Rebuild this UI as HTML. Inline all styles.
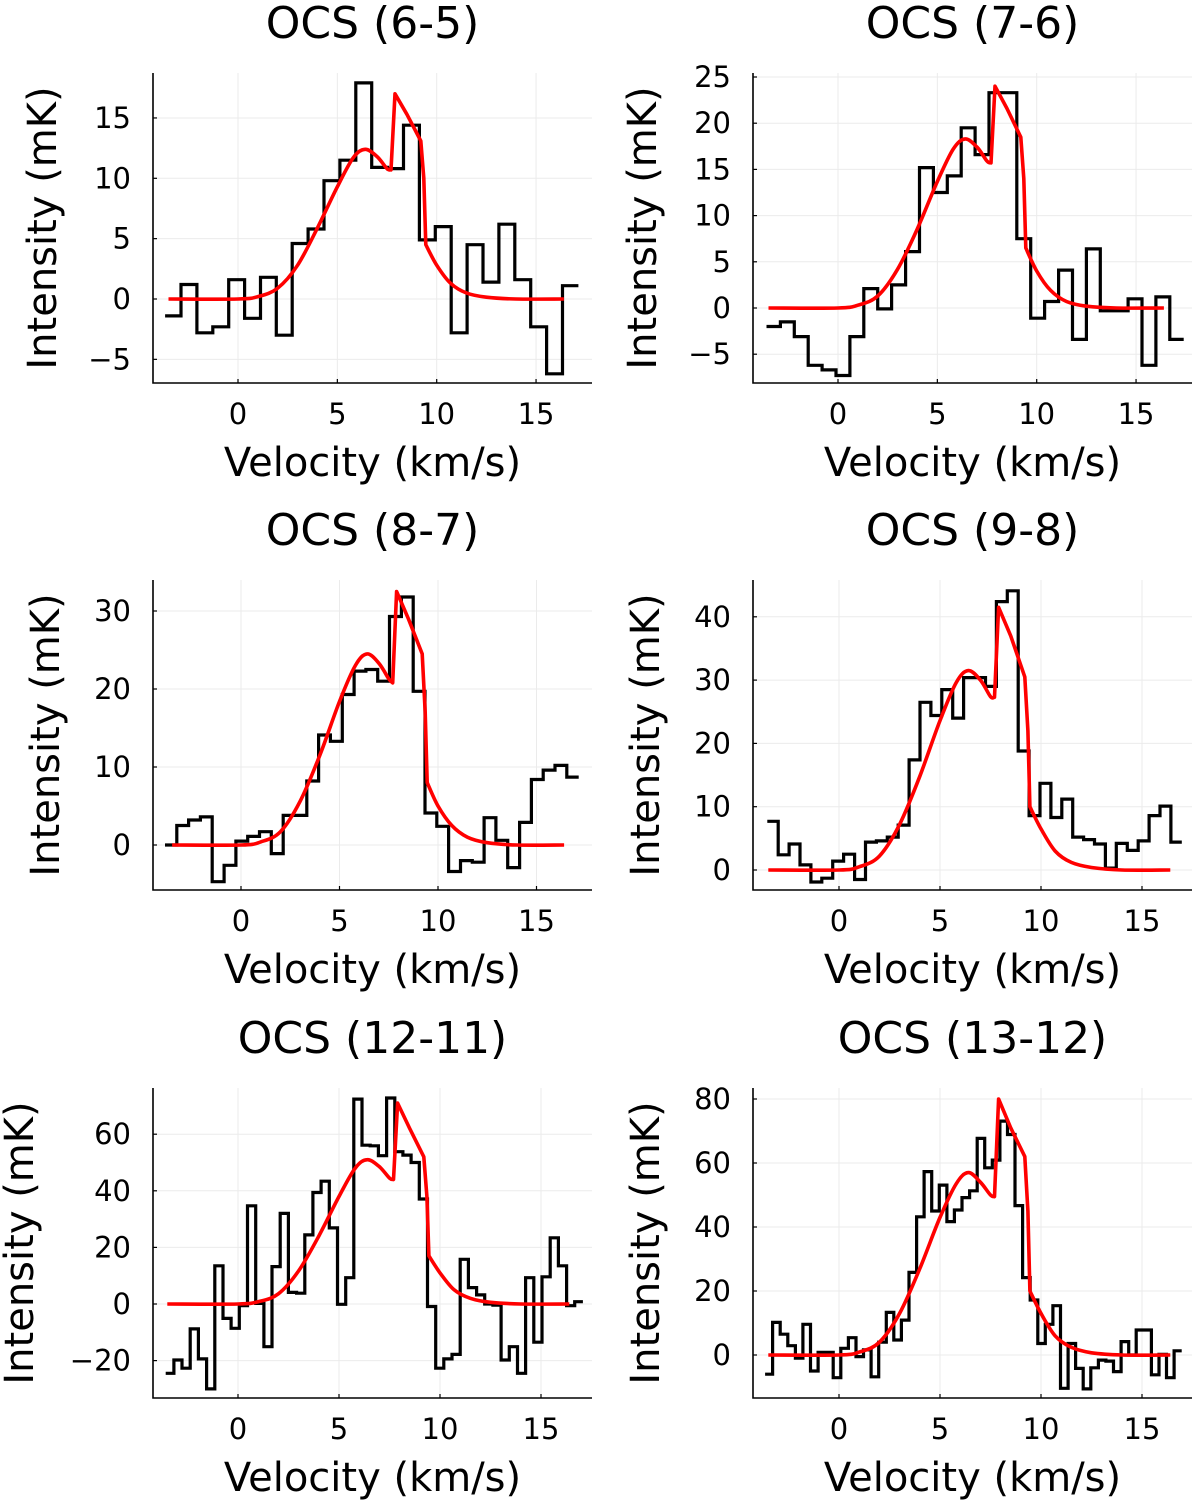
<!DOCTYPE html>
<html><head><meta charset="utf-8">
<style>
html,body{margin:0;padding:0;background:#fff;}
svg{display:block;font-family:"DejaVu Sans","Liberation Sans",sans-serif;}
</style></head>
<body>
<svg id="fig" width="1200" height="1507" viewBox="0 0 1200 1507" xmlns="http://www.w3.org/2000/svg"></svg>
<script>
// ---- data ----
const titles = ["OCS (6-5)","OCS (7-6)","OCS (8-7)","OCS (9-8)","OCS (12-11)","OCS (13-12)"];
const chanStart = [-3.67,-3.6,-3.86,-3.55,-3.58,-3.66];
const chanWidth = [0.8,0.7,0.6,0.54,0.405,0.375];
const spec1 = [-1.4,1.2,-2.8,-2.3,1.6,-1.6,1.8,-3.0,4.6,5.8,9.8,11.5,17.9,10.9,10.8,14.4,4.9,6.0,-2.8,4.5,1.4,6.2,1.6,-2.3,-6.2,1.1];
const spec2 = [-2.0,-1.5,-3.1,-6.2,-6.7,-7.3,-3.1,2.1,-0.1,2.5,6.1,15.2,12.5,14.3,19.5,16.6,23.3,23.3,7.5,-1.1,0.7,4.1,-3.4,6.4,-0.3,-0.3,1.0,-6.2,1.2,-3.4];
const spec3 = [0,2.5,3.2,3.6,-4.7,-2.6,0.5,1.1,1.7,-1.1,3.8,3.8,8.2,14.1,13.3,19.3,22.3,22.5,21.0,29.3,31.8,19.7,4.1,2.4,-3.4,-2.0,-2.2,3.5,0.6,-2.9,2.9,8.4,9.6,10.2,8.7];
const spec4 = [7.7,2.4,4.1,0.8,-1.9,-1.3,1.4,2.5,-1.5,4.4,4.6,5.2,7.1,17.4,26.5,24.4,28.5,24.0,30.4,30.4,29.0,42.4,44.1,18.8,8.6,13.7,8.3,11.2,5.2,4.8,4.1,0.3,4.2,3.1,4.6,8.6,10.1,4.4];
const spec5 = [-24.5,-19.8,-22.7,-8.8,-19.4,-30,13.5,-5.1,-8.6,-0.6,34.7,0.2,-15.1,13.2,32.0,4.1,3.8,24.4,39.4,43.4,26.9,-0.1,9.3,72.4,56.1,55.9,52.4,72.8,53.8,52.6,50.0,37.1,-0.9,-22.7,-19.4,-17.8,15.8,5.8,3.2,0,-0.4,-19.8,-15.1,-24.5,9.3,-13.5,9.6,23.4,13.5,-0.6,0.8];
const spec6 = [-6.0,10.2,6.5,2.9,-1.0,9.6,-5.0,0.8,0.8,-7.1,2.1,5.4,-0.5,1.6,-6.8,4.0,13.3,4.7,10.9,25.8,43.2,57.3,45.0,53.1,41.7,45.3,49.2,51.3,67.7,58.5,60.9,73.1,68.9,46.7,24.2,17.2,3.6,9.6,15.4,-10.4,3.6,-4.2,-10.6,-4.0,-1.6,-1.9,-5.2,4.2,0,7.8,7.8,-6.2,0.2,-7.1,1.3];
const fitV = [-3.5,0,1,2,3,4,5,5.8,6.4,7,7.5,7.7,7.9,8.5,9.2,9.35,9.45,10,10.7,11.5,12.5,14,16.4];
const fit1 = [0,0,0.2,0.9,2.8,5.9,9.3,11.7,12.4,11.8,10.8,10.7,17.0,15.3,13.1,10,4.5,2.8,1.3,0.5,0.15,0,0];
const fit2 = [0,0,0.3,1.3,4.2,8.6,13.7,17.2,18.3,17.4,15.9,15.7,24,21.6,18.5,14,6.5,4.0,1.9,0.7,0.2,0,0];
const fit3 = [0,0,0.4,1.7,5.6,11.5,18.4,23,24.5,23.3,21.3,20.8,32.5,29,24.5,17,8,5,2.5,1,0.3,0,0];
const fit4 = [0,0,0.5,2.2,7.2,14.8,23.6,29.6,31.5,30,27.4,27.3,41.5,37,30.5,22,10,6.5,3,1.2,0.4,0,0];
const fit5 = [0,0,0.8,3.6,11.7,24,38,48,51,48.5,44.5,44,71,62,52,38,17,11,5,2,0.6,0,0];
const fit6 = [0,0,0.9,4,13,27,43,53.5,57,54,50,49.5,80,71,62,45,20,13,6,2.4,0.7,0,0];
const xTicks = [0,5,10,15];
const yTicks1 = [-5,0,5,10,15];
const yTicks2 = [-5,0,5,10,15,20,25];
const yTicks3 = [0,10,20,30];
const yTicks4 = [0,10,20,30,40];
const yTicks5 = [-20,0,20,40,60];
const yTicks6 = [0,20,40,60,80];

// ---- layout ----
const specs=[spec1,spec2,spec3,spec4,spec5,spec6];
const fits=[fit1,fit2,fit3,fit4,fit5,fit6];
const yTicksAll=[yTicks1,yTicks2,yTicks3,yTicks4,yTicks5,yTicks6];
const panels=[
 {l:153,r:592,t:73,b:383,x0:238,ppu:19.87,y0:299,ppm:12.07,ylx:45},
 {l:753,r:1192,t:73,b:383,x0:838,ppu:19.87,y0:308,ppm:9.24,ylx:645},
 {l:153,r:592,t:580,b:890,x0:241,ppu:19.7,y0:845,ppm:7.8,ylx:48},
 {l:753,r:1192,t:580,b:890,x0:839,ppu:20.2,y0:870,ppm:6.33,ylx:648},
 {l:153,r:592,t:1088,b:1398,x0:238,ppu:20.2,y0:1304,ppm:2.83,ylx:22},
 {l:753,r:1192,t:1088,b:1398,x0:839,ppu:20.2,y0:1355,ppm:3.2,ylx:648}
];
const NS="http://www.w3.org/2000/svg";
const svg=document.getElementById('fig');
function mk(tag,attrs,parent){const e=document.createElementNS(NS,tag);for(const k in attrs)e.setAttribute(k,attrs[k]);(parent||svg).appendChild(e);return e;}
function fmt(v){return v<0?"\u2212"+Math.abs(v):String(v);}
function smoothPath(pts){
  const sharp=new Set([11,12,13,14,15]);
  let d='M'+pts[0][0].toFixed(1)+','+pts[0][1].toFixed(1);
  for(let k=0;k<pts.length-1;k++){
    const p1=pts[k],p2=pts[k+1];
    if(sharp.has(k)){d+='L'+p2[0].toFixed(1)+','+p2[1].toFixed(1);continue;}
    const p0=(k>0&&!sharp.has(k-1))?pts[k-1]:p1;
    const p3=(k+2<pts.length&&!sharp.has(k+1))?pts[k+2]:p2;
    const c1=[p1[0]+(p2[0]-p0[0])/6,p1[1]+(p2[1]-p0[1])/6];
    const c2=[p2[0]-(p3[0]-p1[0])/6,p2[1]-(p3[1]-p1[1])/6];
    d+='C'+c1[0].toFixed(1)+','+c1[1].toFixed(1)+' '+c2[0].toFixed(1)+','+c2[1].toFixed(1)+' '+p2[0].toFixed(1)+','+p2[1].toFixed(1);
  }
  return d;
}

panels.forEach((p,i)=>{
  const g=mk('g',{});
  
  
  const X=v=>p.x0+v*p.ppu, Y=v=>p.y0-v*p.ppm;
  xTicks.forEach(t=>{const ln=mk('line',{x1:X(t),x2:X(t),y1:p.t,y2:p.b,stroke:'#ebebeb','stroke-width':1},g);
    });
  yTicksAll[i].forEach(t=>{const ln=mk('line',{x1:p.l,x2:p.r,y1:Y(t),y2:Y(t),stroke:'#ebebeb','stroke-width':1},g);
    });
  const s=specs[i];let d='';
  s.forEach((v,k)=>{const a=X(chanStart[i]+k*chanWidth[i]),b=X(chanStart[i]+(k+1)*chanWidth[i]);
    d+=(k===0?'M':'L')+a.toFixed(1)+','+Y(v).toFixed(1)+'L'+b.toFixed(1)+','+Y(v).toFixed(1);});
  const sp=mk('path',{d:d,fill:'none',stroke:'#000','stroke-width':3.2,'stroke-linejoin':'miter'},g);
  
  const f=fits[i];
  const pts=fitV.map((v,k)=>[X(v),Y(f[k])]);
  const fp=mk('path',{d:smoothPath(pts),fill:'none',stroke:'#f00','stroke-width':3.6,'stroke-linejoin':'round'},g);
  
  const ax=mk('path',{d:`M${p.l},${p.t}L${p.l},${p.b}L${p.r},${p.b}`,fill:'none',stroke:'#000','stroke-width':1.6},g);
  
  xTicks.forEach(t=>{
    const tk=mk('line',{x1:X(t),x2:X(t),y1:p.b,y2:p.b-4,stroke:'#000','stroke-width':1.2},g);
    
    const tl=mk('text',{x:X(t),y:p.b+41,'text-anchor':'middle','font-size':29,fill:'#000'},g);
    tl.textContent=fmt(t);
    
  });
  yTicksAll[i].forEach(t=>{
    const tk=mk('line',{x1:p.l,x2:p.l+4,y1:Y(t),y2:Y(t),stroke:'#000','stroke-width':1.2},g);
    
    const tl=mk('text',{x:p.l-22,y:Y(t)+10,'text-anchor':'end','font-size':29,fill:'#000'},g);
    tl.textContent=fmt(t);
    
  });
  const cx=(p.l+p.r)/2, cy=(p.t+p.b)/2;
  const ti=mk('text',{x:cx,y:p.t-35,'text-anchor':'middle','font-size':44,fill:'#000'},g);
  ti.textContent=titles[i];
  
  const xl=mk('text',{x:cx,y:p.b+93,'text-anchor':'middle','font-size':40,fill:'#000'},g);
  xl.textContent='Velocity (km/s)';
  
  const yl=mk('text',{x:p.ylx,y:cy,'text-anchor':'middle','font-size':40,fill:'#000',transform:`rotate(-90 ${p.ylx} ${cy})`,'dominant-baseline':'middle'},g);
  yl.textContent='Intensity (mK)';
  
});
</script>
</body></html>
